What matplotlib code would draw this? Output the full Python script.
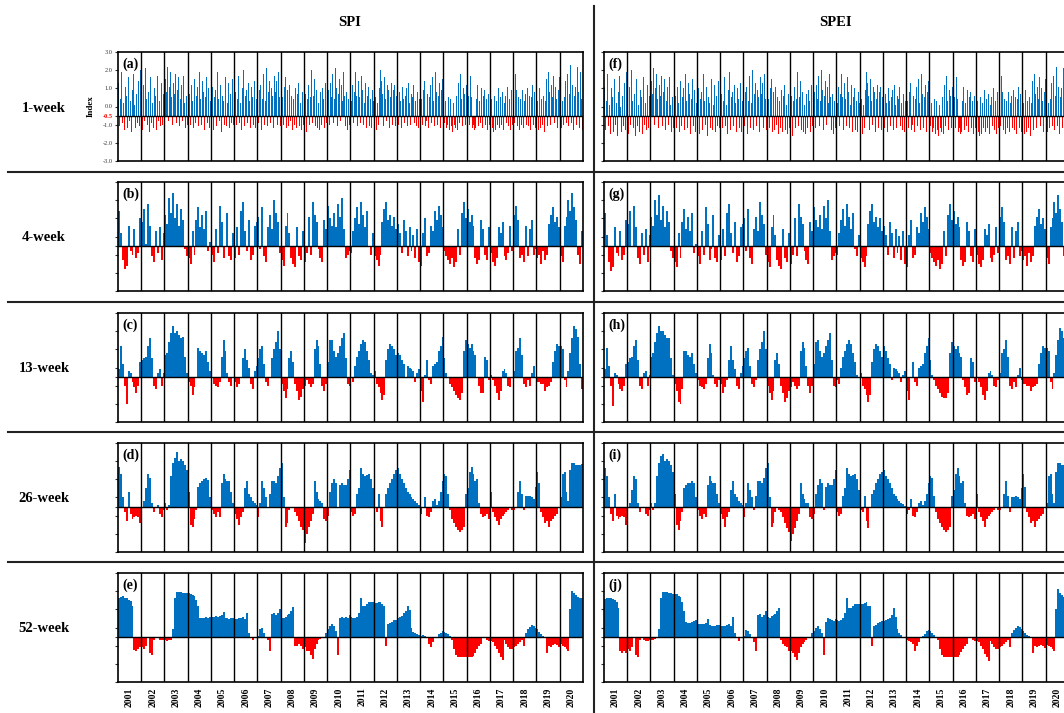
import numpy as np
import matplotlib.pyplot as plt
from matplotlib.lines import Line2D

plt.rcParams['font.family'] = ['Liberation Serif', 'DejaVu Serif']

years = list(range(2001, 2021))
scales = ['1-week', '4-week', '13-week', '26-week', '52-week']
index_names = ['SPI', 'SPEI']
panel_tags = [['(a)', '(b)', '(c)', '(d)', '(e)'], ['(f)', '(g)', '(h)', '(i)', '(j)']]
threshold = -0.5

# 1-week: two values per month, one line per year (2001 ... 2020)
spi_1w = [
    1.3, -1.1, 0.4, 1.9, -0.9, 0.2, -1.3, 1.1, 0.6, -1.2, 1.6, -0.8, 0.3, -1.4, 0.9, -1.0, 1.8, 0.1, -1.2, 0.7, -0.9, 1.4, -1.1, 2.0,
    0.5, -1.3, 1.2, -0.8, 2.1, 0.4, -1.0, 0.8, -1.4, 1.6, -0.9, 0.2, -1.2, 1.0, 0.6, -1.3, 1.7, -0.8, 0.3, -1.1, 1.3, -1.0, 0.7, -1.2,
    -0.9, 1.5, 0.8, 2.2, -0.8, 1.1, 1.9, 0.5, -1.0, 1.3, 0.7, 1.8, -0.9, 0.9, 1.6, -1.1, 0.4, 1.2, -0.8, 1.7, 0.2, -1.2, 0.6, -1.0,
    -1.3, 0.7, -1.0, 1.2, 0.3, -1.2, 1.5, 2.3, -0.9, 0.6, 1.1, -1.1, 1.9, 0.4, -1.0, 1.4, 0.8, -1.3, 0.5, 1.6, -0.9, 1.0, -1.2, 0.3,
    -1.0, 1.1, -1.3, 0.5, 0.9, -1.1, 1.9, 0.4, -0.8, 1.2, -1.4, 0.6, 0.3, -1.0, 1.6, 0.8, -1.1, 0.2, 1.3, -1.2, 0.7, -0.9, 1.5, -1.0,
    -1.2, 0.8, -1.0, 0.4, 1.7, -0.9, 0.2, -1.3, 1.0, 2.0, -1.1, 0.6, 0.9, -0.9, 1.3, 0.3, -1.2, 1.1, 0.5, -1.0, 1.4, -1.2, 0.4, 0.9,
    1.5, -0.9, 0.9, 1.2, -1.3, 0.4, 1.8, -1.0, 0.3, 2.1, -1.1, 0.8, 1.4, -0.9, 1.0, 0.6, -1.2, 1.7, 0.8, 1.4, -1.0, 1.9, 0.5, -1.1,
    -1.4, 0.5, -1.0, 1.1, 1.6, -1.2, 0.9, 0.3, -1.1, 1.2, -0.8, 0.6, -1.3, 0.4, -1.0, 1.0, -1.2, 0.7, 1.3, -1.1, 0.2, -1.3, 0.8, -1.0,
    -1.2, 0.7, -1.4, 0.4, 1.2, -1.0, 0.5, 2.0, -0.9, 0.6, 1.5, -1.1, 0.9, -1.2, 0.2, 1.1, -1.3, 0.8, -1.0, 1.0, 0.4, -1.2, 1.3, -0.9,
    1.6, 0.9, -1.0, 1.3, 0.5, 1.8, -0.9, 0.4, 2.1, 1.0, -1.1, 0.7, 1.5, -0.8, 1.2, 0.3, 1.9, 0.6, -1.1, 0.8, -1.3, 0.4, -1.0, 0.6,
    -1.0, 0.3, 1.2, -0.9, 0.8, 1.9, 0.6, -1.1, 1.4, 0.5, -0.9, 1.7, 0.9, -1.0, 0.2, 1.3, -1.2, 0.6, 1.1, -1.1, 0.4, -1.2, 0.9, 0.3,
    -1.1, 0.5, -1.3, 0.2, -1.0, 1.0, 2.0, -0.9, 1.4, 0.7, -1.1, 1.6, 0.4, -0.8, 1.2, 0.9, -1.2, 0.5, 1.3, -1.0, 0.9, 1.2, -1.1, 0.6,
    1.5, -1.0, 0.8, 0.3, -1.2, 1.1, 0.4, -0.9, 0.6, 1.0, -1.1, 1.3, 0.2, -1.0, 0.7, -1.3, 0.5, 1.2, -0.9, 0.3, -1.1, 0.8, -1.2, 0.4,
    -1.3, 0.4, -1.0, 0.9, 1.4, -1.1, -0.8, 0.7, -1.2, 0.5, 1.2, -0.9, 1.6, 0.3, -1.1, 1.9, 0.8, -1.0, 0.6, 1.3, -1.2, 0.9, 1.5, -0.8,
    1.1, -0.9, 0.3, -1.2, -1.0, 0.5, -1.3, 0.4, -1.1, -1.4, 0.2, -1.0, -1.2, 0.6, -1.3, 1.3, -0.9, 1.8, 0.4, -1.1, 1.0, 0.7, -1.0, 1.2,
    1.4, 0.6, -1.0, 1.7, 0.5, -1.2, -1.0, 0.3, -1.3, -1.2, 0.4, 1.2, -1.1, 0.3, -0.9, 1.0, -1.2, 0.6, 0.9, -1.0, 0.4, -1.3, 0.7, -1.0,
    -0.8, 0.4, -1.2, -1.4, 0.6, -1.3, 0.3, -1.0, 1.0, -1.2, 0.5, -1.0, 0.8, -1.3, 0.2, -1.2, 0.6, -0.9, 1.1, -1.1, 0.4, -1.3, 0.9, -1.0,
    1.3, -0.9, 1.8, 0.9, -1.1, 0.5, -1.3, 0.4, -1.0, 0.9, -1.2, 0.3, 0.7, -1.0, 1.0, -1.1, 0.6, -1.3, 0.5, 1.2, -1.0, 0.8, -1.2, 0.5,
    -1.1, 0.3, -1.3, 1.0, -1.2, 0.4, -1.0, 0.6, -1.4, 0.3, 1.5, -1.1, 1.9, 0.8, -1.0, 1.2, 0.5, 1.7, -0.9, 1.1, 0.4, -1.2, 0.9, 1.6,
    0.9, -1.2, 0.3, -1.0, 0.5, 1.4, -0.9, 2.2, 1.8, -1.1, 0.7, 2.3, -0.9, 1.2, -1.3, 0.6, 1.1, -1.0, 2.2, 0.8, -1.2, 1.9, 0.4, -1.3,
]
spei_1w = [
    1.1, -1.3, 0.3, 1.8, -1.1, 0.1, -1.5, 1.0, 0.5, -1.4, 1.5, -1.0, 0.2, -1.6, 0.8, -1.2, 1.7, 0.0, -1.4, 0.6, -1.1, 1.3, -1.3, 1.9,
    0.4, -1.5, 1.1, -1.0, 2.0, 0.3, -1.2, 0.7, -1.6, 1.5, -1.1, 0.1, -1.4, 0.9, 0.5, -1.5, 1.6, -1.0, 0.2, -1.3, 1.2, -1.2, 0.6, -1.4,
    -1.1, 1.4, 0.7, 2.1, -1.0, 1.0, 1.8, 0.4, -1.2, 1.2, 0.6, 1.7, -1.1, 0.8, 1.5, -1.3, 0.3, 1.1, -1.0, 1.6, 0.1, -1.4, 0.5, -1.2,
    -1.5, 0.6, -1.2, 1.1, 0.2, -1.4, 1.4, 2.2, -1.1, 0.5, 1.0, -1.3, 1.8, 0.3, -1.2, 1.3, 0.7, -1.5, 0.4, 1.5, -1.1, 0.9, -1.4, 0.2,
    -1.2, 1.0, -1.5, 0.4, 0.8, -1.3, 1.8, 0.3, -1.0, 1.1, -1.6, 0.5, 0.2, -1.2, 1.5, 0.7, -1.3, 0.1, 1.2, -1.4, 0.6, -1.1, 1.4, -1.2,
    -1.4, 0.7, -1.2, 0.3, 1.6, -1.1, 0.1, -1.5, 0.9, 1.9, -1.3, 0.5, 0.8, -1.1, 1.2, 0.2, -1.4, 1.0, 0.4, -1.2, 1.3, -1.4, 0.3, 0.8,
    1.4, -1.1, 0.8, 1.1, -1.5, 0.3, 1.7, -1.2, 0.2, 2.0, -1.3, 0.7, 1.3, -1.1, 0.9, 0.5, -1.4, 1.6, 0.7, 1.3, -1.2, 1.8, 0.4, -1.3,
    -1.6, 0.4, -1.2, 1.0, 1.5, -1.4, 0.8, 0.2, -1.3, 1.1, -1.0, 0.5, -1.5, 0.3, -1.2, 0.9, -1.4, 0.6, 1.2, -1.3, 0.1, -1.5, 0.7, -1.2,
    -1.4, 0.6, -1.6, 0.3, 1.1, -1.2, 0.4, 1.9, -1.1, 0.5, 1.4, -1.3, 0.8, -1.4, 0.1, 1.0, -1.5, 0.7, -1.2, 0.9, 0.3, -1.4, 1.2, -1.1,
    1.5, 0.8, -1.2, 1.2, 0.4, 1.7, -1.1, 0.3, 2.0, 0.9, -1.3, 0.6, 1.4, -1.0, 1.1, 0.2, 1.8, 0.5, -1.3, 0.7, -1.5, 0.3, -1.2, 0.5,
    -1.2, 0.2, 1.1, -1.1, 0.7, 1.8, 0.5, -1.3, 1.3, 0.4, -1.1, 1.6, 0.8, -1.2, 0.1, 1.2, -1.4, 0.5, 1.0, -1.3, 0.3, -1.4, 0.8, 0.2,
    -1.3, 0.4, -1.5, 0.1, -1.2, 0.9, 1.9, -1.1, 1.3, 0.6, -1.3, 1.5, 0.3, -1.0, 1.1, 0.8, -1.4, 0.4, 1.2, -1.2, 0.8, 1.1, -1.3, 0.5,
    1.4, -1.2, 0.7, 0.2, -1.4, 1.0, 0.3, -1.1, 0.5, 0.9, -1.3, 1.2, 0.1, -1.2, 0.6, -1.5, 0.4, 1.1, -1.1, 0.2, -1.3, 0.7, -1.4, 0.3,
    -1.5, 0.3, -1.2, 0.8, 1.3, -1.3, -1.0, 0.6, -1.4, 0.4, 1.1, -1.1, 1.5, 0.2, -1.3, 1.8, 0.7, -1.2, 0.5, 1.2, -1.4, 0.8, 1.4, -1.0,
    1.0, -1.1, 0.2, -1.4, -1.2, 0.4, -1.5, 0.3, -1.3, -1.6, 0.1, -1.2, -1.4, 0.5, -1.5, 1.2, -1.1, 1.7, 0.3, -1.3, 0.9, 0.6, -1.2, 1.1,
    1.3, 0.5, -1.2, 1.6, 0.4, -1.4, -1.2, 0.2, -1.5, -1.4, 0.3, 1.1, -1.3, 0.2, -1.1, 0.9, -1.4, 0.5, 0.8, -1.2, 0.3, -1.5, 0.6, -1.2,
    -1.0, 0.3, -1.4, -1.6, 0.5, -1.5, 0.2, -1.2, 0.9, -1.4, 0.4, -1.2, 0.7, -1.5, 0.1, -1.4, 0.5, -1.1, 1.0, -1.3, 0.3, -1.5, 0.8, -1.2,
    1.2, -1.1, 1.7, 0.8, -1.3, 0.4, -1.5, 0.3, -1.2, 0.8, -1.4, 0.2, 0.6, -1.2, 0.9, -1.3, 0.5, -1.5, 0.4, 1.1, -1.2, 0.7, -1.4, 0.4,
    -1.3, 0.2, -1.5, 0.9, -1.4, 0.3, -1.2, 0.5, -1.6, 0.2, 1.4, -1.3, 1.8, 0.7, -1.2, 1.1, 0.4, 1.6, -1.1, 1.0, 0.3, -1.4, 0.8, 1.5,
    0.8, -1.4, 0.2, -1.2, 0.4, 1.3, -1.1, 2.1, 1.7, -1.3, 0.6, 2.2, -1.1, 1.1, -1.5, 0.5, 1.0, -1.2, 2.1, 0.7, -1.4, 1.8, 0.3, -1.5,
]
# 4, 13, 26 and 52-week: monthly values, one line per year
spi_4w = [
    1.4, 0.2, -1.3, -1.8, -1.6, 0.6, -0.8, -1.0, 0.4, -1.2, -0.9, 1.0,
    0.8, 1.5, -0.4, 1.8, 0.6, -1.1, -1.4, 0.3, -0.9, 0.5, -1.3, 0.2,
    1.2, 0.7, 2.1, 1.3, 2.4, 1.0, 1.8, 0.6, 1.5, 0.9, -0.7, -1.1,
    -1.2, -1.5, 0.3, -1.0, 0.9, 1.6, 0.5, 1.2, 0.4, 1.4, -0.8, -0.3,
    -1.0, -1.4, 0.4, -0.9, 1.7, 0.8, -1.2, -0.6, 1.3, -1.1, -1.3, 0.2,
    -1.2, 0.5, -1.0, 1.4, 1.9, 0.3, -0.8, 0.9, -1.3, -1.0, 0.6, 0.8,
    1.1, -0.7, 1.6, -1.1, -1.4, 0.5, 1.2, 0.4, 2.0, 1.3, 0.8, -0.9,
    -1.3, -1.6, 0.6, 1.3, 0.2, -1.2, -1.5, -1.7, 0.5, -1.1, -1.3, 0.3,
    -1.4, -0.9, 1.1, -1.0, 1.9, 1.2, 0.8, -0.7, -1.2, -1.4, 0.9, 0.4,
    1.7, 1.0, 0.6, 1.3, 0.5, 1.8, 1.1, 2.1, 0.4, -1.2, -1.0, -0.8,
    -0.9, 0.3, 1.0, 1.6, 0.7, 1.9, 1.2, 0.5, 1.4, -0.6, -1.0, 0.2,
    -1.1, -1.3, -1.6, -1.0, 0.8, 1.5, 1.9, 0.9, 1.2, 0.6, 1.1, 0.4,
    0.7, 0.2, -0.9, 0.9, 0.3, -1.1, 0.5, -0.8, 0.1, -1.2, 0.4, -1.4,
    -1.6, 0.2, 1.0, -1.1, -0.9, 0.6, 0.3, 1.4, 0.9, 1.7, 1.2, 0.5,
    -0.8, -1.1, -1.3, -1.5, -1.2, -1.7, -1.4, 0.4, -1.0, 1.3, 1.9, 1.0,
    1.5, 0.8, 1.2, 0.6, -1.2, -1.5, -1.3, 0.9, 0.4, -1.0, -1.3, 0.5,
    -0.9, -1.4, -1.6, -1.2, 0.5, 0.2, 0.8, -1.1, -1.3, -0.9, 0.6, -0.8,
    1.2, 1.7, 0.9, -1.2, -1.0, -1.4, 0.6, -1.1, 0.4, 0.9, -1.0, -0.7,
    -1.2, -1.0, -1.5, -0.8, -1.3, -1.0, 0.7, 1.2, 1.6, 0.8, 1.1, 0.5,
    -1.1, -1.4, 0.6, 1.1, 2.0, 1.4, 2.4, 1.6, 0.9, -1.0, -1.5, 0.3,
]
spei_4w = [
    1.3, 0.1, -1.4, -1.9, -1.7, 0.5, -0.9, -1.1, 0.3, -1.3, -1.0, 0.9,
    0.7, 1.4, -0.5, 1.7, 0.5, -1.2, -1.5, 0.2, -1.0, 0.4, -1.4, 0.1,
    1.1, 0.6, 2.0, 1.2, 2.3, 0.9, 1.7, 0.5, 1.4, 0.8, -0.8, -1.2,
    -1.4, -1.7, 0.2, -1.2, 0.8, 1.5, 0.4, 1.1, 0.3, 1.3, -0.9, -0.4,
    -1.1, -1.5, 0.3, -1.0, 1.6, 0.7, -1.3, -0.7, 1.2, -1.2, -1.4, 0.1,
    -1.3, 0.4, -1.1, 1.3, 1.8, 0.2, -0.9, 0.8, -1.4, -1.1, 0.5, 0.7,
    1.0, -0.8, 1.5, -1.2, -1.5, 0.4, 1.1, 0.3, 1.9, 1.2, 0.7, -1.0,
    -1.4, -1.7, 0.5, 1.2, 0.1, -1.3, -1.6, -1.8, 0.4, -1.2, -1.4, 0.2,
    -1.5, -1.0, 1.0, -1.1, 1.8, 1.1, 0.7, -0.8, -1.3, -1.5, 0.8, 0.3,
    1.6, 0.9, 0.5, 1.2, 0.4, 1.7, 1.0, 2.0, 0.3, -1.3, -1.1, -0.9,
    -1.0, 0.2, 0.9, 1.5, 0.6, 1.8, 1.1, 0.4, 1.3, -0.7, -1.1, 0.1,
    -1.2, -1.4, -1.7, -1.1, 0.7, 1.4, 1.8, 0.8, 1.1, 0.5, 1.0, 0.3,
    0.6, 0.1, -1.0, 0.8, 0.2, -1.2, 0.4, -0.9, 0.0, -1.3, 0.3, -1.5,
    -1.7, 0.1, 0.9, -1.2, -1.0, 0.5, 0.2, 1.3, 0.8, 1.6, 1.1, 0.4,
    -0.9, -1.2, -1.4, -1.6, -1.3, -1.8, -1.5, 0.3, -1.1, 1.2, 1.8, 0.9,
    1.4, 0.7, 1.1, 0.5, -1.3, -1.6, -1.4, 0.8, 0.3, -1.1, -1.4, 0.4,
    -1.0, -1.5, -1.7, -1.3, 0.4, 0.1, 0.7, -1.2, -1.4, -1.0, 0.5, -0.9,
    1.1, 1.6, 0.8, -1.3, -1.1, -1.5, 0.5, -1.2, 0.3, 0.8, -1.1, -0.8,
    -1.3, -1.1, -1.6, -0.9, -1.4, -1.1, 0.6, 1.1, 1.5, 0.7, 1.0, 0.4,
    -1.2, -1.5, 0.5, 1.0, 1.9, 1.3, 2.3, 1.5, 0.8, -1.1, -1.6, 0.2,
]
spi_13w = [
    -0.1, 1.2, 0.2, -1.0, -2.0, -0.2, -0.3, -0.8, -1.1, -1.4, -1.0, 0.3,
    0.4, 0.5, 0.6, 1.2, 1.6, 0.5, -1.0, -1.2, -0.3, -0.1, -1.0, -0.3,
    0.7, 0.8, 1.4, 1.9, 2.3, 1.9, 2.0, 1.8, 1.6, 1.7, 0.6, -0.3,
    -0.8, -1.0, -1.5, -1.1, -0.6, 1.1, 0.9, 0.8, 0.7, 0.9, 0.3, -0.2,
    -0.6, -0.9, -1.0, -1.1, -0.8, 0.6, 1.5, 0.9, -0.3, -0.8, -1.0, -0.6,
    -0.8, -1.1, -0.9, -0.6, 0.5, 1.0, 0.4, 0.0, -0.9, -1.2, -0.2, 0.1,
    0.5, 1.0, 1.2, 0.2, -0.8, -1.0, -0.6, 0.5, 1.0, 1.4, 2.0, 1.0,
    -0.9, -1.3, -1.7, -1.2, 0.5, 0.9, 0.3, -0.9, -1.3, -1.8, -1.6, -1.2,
    -1.0, -0.7, -0.9, -1.1, -0.9, 1.0, 1.5, 1.2, 0.2, -1.0, -1.3, -0.9,
    0.3, 1.5, 1.5, 0.9, 0.6, 0.8, 1.2, 1.6, 1.9, 0.5, -0.9, -1.0,
    -0.6, -0.8, 0.1, 0.6, 0.9, 1.3, 1.5, 1.4, 0.9, 0.4, -0.3, -0.4,
    -0.2, -0.9, -1.1, -1.4, -1.8, -1.5, 0.4, 1.0, 1.3, 1.2, 1.0, 0.7,
    0.8, 0.7, 0.4, 0.2, -0.6, 0.1, 0.0, -0.1, -0.2, -0.8, -0.3, -0.1,
    -1.3, -1.9, -0.4, 0.4, -0.7, -0.9, 0.1, 0.2, 0.3, 0.9, 1.2, 1.7,
    0.5, -0.3, -0.6, -0.9, -1.1, -1.3, -1.5, -1.7, -1.8, -1.4, 0.9, 1.5,
    1.3, 1.1, 1.3, 0.9, 0.7, -0.6, -1.0, -1.4, -1.4, 0.6, 0.4, -0.7,
    -0.4, -0.7, -1.0, -1.4, -1.8, -1.3, -0.2, -0.1, -0.3, -1.0, -1.1, -0.6,
    -0.2, 0.9, 1.1, 1.6, 0.7, -0.9, -1.1, -0.7, -1.0, -0.3, 0.1, -0.6,
    -0.8, -0.8, -0.9, -0.9, -1.3, -1.1, -1.0, -0.8, 0.3, 0.9, 1.3, 1.2,
    1.2, 1.0, -0.7, -1.1, -0.2, 0.8, 1.6, 2.3, 2.1, 1.7, 0.2, -1.2,
]
spei_13w = [
    -0.1, 1.1, 0.1, -1.0, -2.1, -0.3, -0.4, -0.9, -1.2, -1.3, -1.0, 0.2,
    0.3, 0.5, 0.6, 1.2, 1.5, 0.4, -1.0, -1.2, -0.3, -0.2, -1.0, -0.4,
    0.6, 0.8, 1.4, 1.9, 2.3, 2.0, 2.0, 1.8, 1.6, 1.6, 0.5, -0.4,
    -0.9, -1.3, -1.9, -2.0, -1.2, 0.9, 0.9, 0.7, 0.6, 0.8, 0.2, -0.3,
    -0.7, -1.0, -1.1, -1.2, -0.9, 0.5, 1.3, 0.8, -0.4, -0.9, -1.1, -0.7,
    -0.9, -1.4, -1.1, -0.7, 0.4, 1.2, 0.4, -0.1, -1.0, -1.2, -0.3, 0.1,
    0.5, 0.9, 1.1, 0.1, -0.9, -1.1, -0.7, 0.4, 1.0, 1.4, 2.0, 1.0,
    -1.0, -1.4, -1.8, -1.3, 0.4, 0.8, 0.2, -1.0, -1.4, -1.9, -1.7, -1.3,
    -1.1, -0.8, -1.0, -1.2, -1.0, 0.9, 1.4, 1.1, 0.1, -1.0, -1.4, -1.0,
    0.2, 1.4, 1.5, 0.9, 0.6, 0.8, 1.2, 1.5, 1.9, 0.4, -1.0, -1.1,
    -0.7, -0.9, 0.0, 0.6, 0.9, 1.3, 1.5, 1.3, 0.8, 0.3, -0.4, -0.5,
    -0.3, -1.0, -1.2, -1.5, -1.9, -1.5, 0.3, 1.0, 1.3, 1.2, 0.9, 0.6,
    1.2, 0.9, 0.5, 0.2, -0.7, 0.0, -0.1, -0.2, -0.3, -0.8, -0.4, -0.2,
    -1.3, -1.8, -0.5, 0.3, -0.8, -1.0, 0.0, 0.1, 0.2, 0.8, 1.2, 1.6,
    0.4, -0.4, -0.7, -1.0, -1.2, -1.4, -1.6, -1.7, -1.7, -1.4, 0.8, 1.4,
    1.2, 1.0, 1.2, 0.8, 0.6, -0.7, -1.1, -1.5, -1.4, 0.5, 0.3, -0.8,
    -0.5, -0.8, -1.1, -1.5, -1.8, -1.3, -0.3, -0.2, -0.4, -1.0, -1.1, -0.7,
    -0.3, 0.8, 1.0, 1.5, 0.6, -1.0, -1.2, -0.8, -1.1, -0.4, 0.0, -0.7,
    -0.9, -0.9, -1.0, -1.0, -1.3, -1.1, -1.0, -0.9, 0.2, 0.8, 1.2, 1.1,
    1.1, 0.9, -0.8, -1.2, -0.3, 0.7, 1.5, 2.2, 2.0, 1.6, 0.1, -1.3,
]
spi_26w = [
    1.7, 1.3, 0.0, -0.8, -1.3, 0.3, -0.9, -1.2, -1.1, -1.0, -1.1, -1.4,
    -0.5, -0.2, 0.5, 1.3, 1.1, -0.3, -0.8, -0.5, -0.4, -0.9, -1.1, -0.7,
    -0.3, -0.7, -0.4, 1.2, 1.9, 2.2, 2.5, 2.0, 2.1, 2.0, 1.8, 1.5,
    0.3, -1.5, -1.6, -1.2, -0.7, 0.6, 0.8, 0.9, 1.0, 1.1, 0.95, 0.0,
    -0.7, -0.9, -1.1, -0.8, -1.1, 0.8, 1.3, 1.0, 0.9, 0.9, 0.3, -0.3,
    -0.9, -1.2, -1.5, -1.1, -0.8, 0.5, 0.9, 0.2, 0.0, -0.2, -0.3, -0.4,
    -1.1, -0.3, 0.9, 0.5, 0.0, -0.6, 0.2, 0.9, 0.9, 0.8, 1.2, 1.6,
    1.9, 0.0, -1.6, -1.4, -0.7, -0.6, -0.6, -0.8, -1.0, -1.3, -1.6, -1.8,
    -2.5, -2.0, -1.6, -1.3, -0.9, 0.9, 0.3, -0.1, -0.2, -0.3, -1.2, -1.3,
    -1.0, 0.3, 0.8, 1.0, 0.8, -0.6, 0.7, 0.8, 0.7, 0.7, 1.0, 1.5,
    -0.8, -1.0, -0.9, 0.2, 0.5, 1.6, 1.3, 1.2, 1.25, 1.3, 1.0, 0.5,
    -0.6, -0.8, 0.2, -1.3, -1.6, -0.6, 0.2, 0.5, 0.8, 1.0, 1.3, 1.5,
    1.6, 1.3, 1.0, 0.8, 0.5, 0.3, 0.2, 0.0, -0.1, -0.2, -0.3, -0.4,
    -0.9, -0.6, 0.0, -1.0, -1.1, -0.8, -0.2, -0.1, -0.4, -0.2, 0.3, 0.9,
    1.3, 1.2, 0.2, -0.7, -1.2, -1.4, -1.6, -1.8, -1.9, -1.8, -1.6, 0.2,
    0.5, 1.4, 1.7, 1.3, 0.9, 1.0, -0.3, -0.9, -1.1, -1.0, -0.9, -1.2,
    0.3, -0.8, -1.1, -1.3, -1.5, -1.2, -1.0, -0.9, -0.8, -0.7, -0.6, -0.7,
    -0.7, -0.6, 0.3, 0.9, 0.2, -0.7, 0.1, 0.1, 0.1, 0.0, -0.1, 0.6,
    1.4, 0.8, -0.8, -1.1, -1.4, -1.3, -1.6, -1.3, -1.2, -1.0, -0.9, -0.5,
    0.0, 1.3, 1.4, 0.3, -0.2, 1.5, 1.9, 1.9, 1.8, 1.8, 1.8, 1.85,
]
spei_26w = [
    1.6, 1.2, 0.0, -0.9, -1.3, 0.2, -1.0, -1.2, -1.1, -1.0, -1.1, -1.5,
    -0.6, -0.3, 0.4, 1.2, 1.0, -0.3, -0.8, -0.6, -0.5, -0.9, -1.0, -0.7,
    -0.3, -0.7, -0.3, 1.2, 1.9, 2.3, 2.4, 2.0, 2.1, 2.0, 1.8, 1.4,
    0.2, -1.5, -1.8, -1.3, -0.8, 0.5, 0.7, 0.8, 0.8, 0.9, 0.8, 0.0,
    -0.7, -1.0, -1.2, -0.9, -1.1, 0.7, 1.2, 0.9, 0.8, 0.8, 0.2, -0.3,
    -0.9, -1.2, -1.6, -1.1, -0.8, 0.4, 0.9, 0.2, 0.0, -0.2, -0.3, -0.4,
    -1.1, -0.3, 0.8, 0.4, 0.0, -0.7, 0.1, 0.9, 0.9, 0.8, 1.1, 1.6,
    1.9, 0.0, -1.6, -1.4, -0.8, -0.6, -0.7, -0.8, -1.1, -1.4, -1.7, -1.9,
    -2.4, -2.0, -1.7, -1.3, -0.9, 0.8, 0.2, -0.1, -0.3, -0.3, -1.1, -1.2,
    -0.9, 0.2, 0.7, 1.0, 0.8, -0.7, 0.6, 0.8, 0.7, 0.7, 1.0, 1.5,
    -0.8, -1.0, -0.9, 0.1, 0.5, 1.6, 1.3, 1.2, 1.25, 1.3, 1.0, 0.4,
    -0.7, -0.8, 0.1, -1.3, -1.7, -0.6, 0.2, 0.4, 0.8, 1.0, 1.3, 1.4,
    1.5, 1.2, 1.0, 0.8, 0.5, 0.2, 0.1, -0.1, -0.2, -0.3, -0.35, -0.45,
    -0.9, -0.7, -0.1, -1.0, -1.1, -0.8, -0.3, -0.2, -0.4, -0.2, 0.2, 0.8,
    1.2, 1.1, 0.1, -0.8, -1.2, -1.4, -1.6, -1.8, -1.9, -1.8, -1.6, 0.1,
    0.4, 1.3, 1.6, 1.2, 0.8, 0.9, -0.3, -1.0, -1.1, -1.0, -0.9, -1.2,
    0.2, -0.8, -1.1, -1.3, -1.6, -1.2, -1.0, -0.9, -0.8, -0.7, -0.6, -0.7,
    -0.7, -0.6, 0.2, 0.9, 0.1, -0.8, 0.0, 0.0, 0.1, 0.0, -0.1, 0.5,
    1.3, 0.6, -0.8, -1.1, -1.4, -1.3, -1.6, -1.3, -1.2, -1.0, -0.9, -0.6,
    -0.3, 1.2, 1.3, 0.2, -0.3, 1.4, 1.9, 1.9, 1.8, 1.8, 1.8, 1.85,
]
spi_52w = [
    1.63, 1.67, 1.72, 1.65, 1.63, 1.54, 1.45, 1.2, -1.25, -1.3, -1.2, -1.1,
    -1.1, -1.2, -1.0, -0.55, -1.4, -1.5, -0.7, -0.5, -0.55, -0.7, -0.7, -0.7,
    -0.7, -0.75, -0.7, -0.7, -0.1, 1.6, 1.95, 1.95, 1.95, 1.9, 1.9, 1.9,
    1.9, 1.85, 1.8, 1.75, 1.5, 1.2, 0.55, 0.5, 0.55, 0.6, 0.55, 0.6,
    0.6, 0.6, 0.65, 0.6, 0.65, 0.7, 0.85, 0.55, 0.5, 0.45, 0.5, 0.5,
    0.45, 0.45, 0.5, 0.55, 0.6, 0.45, 0.8, -0.3, -0.5, -0.7, -0.55, -0.5,
    -0.45, -0.1, -0.05, -0.3, -0.55, -0.7, -1.3, 0.75, 0.8, 0.7, 0.8, 1.0,
    0.55, 0.55, 0.6, 0.7, 0.75, 0.9, 1.15, -1.0, -1.0, -0.9, -1.0, -1.2,
    -1.1, -1.3, -1.3, -1.5, -1.75, -1.2, -0.9, -0.7, -0.65, -0.6, -0.6, -0.3,
    -0.1, 0.1, 0.2, 0.1, -0.2, -1.5, 0.5, 0.6, 0.55, 0.6, 0.55, 0.7,
    0.6, 0.5, 0.55, 0.6, 0.8, 1.6, 1.2, 1.2, 1.3, 1.4, 1.4, 1.4,
    1.35, 1.35, 1.4, 1.4, 1.3, 1.2, -1.0, 0.2, 0.25, 0.3, 0.4, 0.4,
    0.5, 0.6, 0.65, 0.8, 0.9, 1.2, 0.95, 0.0, -0.25, -0.3, -0.35, -0.4,
    -0.45, -0.4, -0.45, -0.5, -0.9, -1.1, -0.8, -0.6, -0.5, -0.35, -0.3, -0.2,
    -0.25, -0.3, -0.35, -0.45, -0.7, -1.2, -1.5, -1.6, -1.65, -1.65, -1.6, -1.65,
    -1.6, -1.65, -1.6, -1.55, -1.4, -1.2, -1.0, -0.9, -0.55, -0.6, -0.7, -0.75,
    -0.75, -0.8, -1.0, -1.2, -1.4, -1.6, -1.8, -0.7, -0.9, -1.1, -1.2, -1.2,
    -1.1, -1.0, -0.9, -0.8, -0.7, -1.0, -0.3, -0.1, 0.05, 0.15, 0.1, -0.05,
    -0.1, -0.25, -0.35, -0.45, -0.6, -1.4, -1.0, -1.05, -0.95, -0.9, -0.95, -1.1,
    -0.9, -1.0, -1.1, -1.2, -1.3, 1.0, 2.0, 1.9, 1.8, 1.7, 1.65, 1.6,
]
spei_52w = [
    1.55, 1.6, 1.65, 1.6, 1.55, 1.5, 1.4, 1.1, -1.3, -1.4, -1.3, -1.4,
    -1.2, -1.3, -1.1, -0.6, -1.5, -1.6, -0.7, -0.55, -0.7, -0.75, -0.75, -0.7,
    -0.7, -0.7, -0.65, -0.6, -0.1, 1.6, 1.95, 1.95, 1.95, 1.9, 1.9, 1.85,
    1.85, 1.85, 1.75, 1.7, 1.4, 0.9, 0.3, 0.25, 0.25, 0.3, 0.35, 0.4,
    0.2, 0.2, 0.2, 0.2, 0.25, 0.45, 0.15, 0.1, 0.1, 0.1, 0.15, 0.15,
    0.1, 0.1, 0.1, 0.15, 0.2, 0.1, 0.6, -0.3, -0.5, -0.75, -0.6, -0.5,
    -0.45, -0.15, -0.2, -0.35, -0.55, -0.8, -1.3, 0.7, 0.75, 0.6, 0.7, 0.9,
    0.6, 0.55, 0.65, 0.7, 0.75, 0.9, 1.1, -0.7, -0.9, -1.0, -1.1, -1.3,
    -1.3, -1.4, -1.6, -1.8, -1.4, -1.1, -0.9, -0.8, -0.7, -0.6, -0.5, -0.3,
    -0.2, 0.0, 0.1, -0.1, -0.3, -1.5, 0.3, 0.5, 0.45, 0.4, 0.35, 0.45,
    0.4, 0.35, 0.4, 0.5, 0.8, 1.6, 1.1, 1.1, 1.2, 1.3, 1.3, 1.3,
    1.3, 1.3, 1.35, 1.4, 1.2, 1.2, -1.0, 0.1, 0.15, 0.25, 0.3, 0.35,
    0.35, 0.4, 0.45, 0.5, 0.7, 1.1, 0.6, -0.1, -0.3, -0.4, -0.5, -0.55,
    -0.7, -0.75, -0.8, -0.9, -1.3, -1.0, -0.8, -0.6, -0.45, -0.35, -0.2, -0.15,
    -0.2, -0.3, -0.4, -0.5, -0.7, -1.2, -1.5, -1.6, -1.65, -1.65, -1.6, -1.65,
    -1.6, -1.6, -1.6, -1.5, -1.35, -1.2, -1.0, -0.9, -0.55, -0.6, -0.7, -0.75,
    -0.75, -0.8, -1.0, -1.2, -1.45, -1.65, -1.85, -0.75, -0.9, -1.1, -1.2, -1.2,
    -1.1, -1.0, -0.9, -0.8, -0.7, -1.1, -0.3, -0.15, 0.0, 0.1, 0.05, -0.1,
    -0.2, -0.3, -0.4, -0.45, -0.6, -1.4, -1.0, -1.05, -1.0, -0.95, -1.0, -1.15,
    -0.95, -1.0, -1.1, -1.2, -1.3, 1.0, 2.1, 1.9, 1.8, 1.7, 1.65, 1.6,
]

series = [[spi_1w, spi_4w, spi_13w, spi_26w, spi_52w],
          [spei_1w, spei_4w, spei_13w, spei_26w, spei_52w]]

BLUE = '#0070C0'
RED = '#FF0000'
W, H = 1064, 713

fig = plt.figure(figsize=(W / 100, H / 100), dpi=100)

col_left = [118, 604]
row_top = [52, 182, 313, 443, 573]
pw, ph = 465, 109

for c in range(2):
    for r in range(5):
        ax = fig.add_axes([col_left[c] / W, 1 - (row_top[r] + ph) / H, pw / W, ph / H])
        v = np.array(series[c][r])
        n = len(v)
        step = len(years) / n
        x = years[0] + (np.arange(n) + 0.5) * step
        cols = np.where(v >= threshold, BLUE, RED)
        ax.bar(x, v - threshold, bottom=threshold, width=step,
               color=cols, linewidth=0)
        ax.axhline(threshold, color='black', lw=1.0, zorder=3)
        for yr in years[1:]:
            ax.axvline(yr, color='black', lw=1.0, zorder=3)
        ax.set_xlim(years[0], years[-1] + 1)
        ax.set_ylim(-3, 3)
        for s in ax.spines.values():
            s.set_linewidth(1.2)
        ax.text(0.01, 0.95, panel_tags[c][r], transform=ax.transAxes,
                fontsize=10, fontweight='bold', va='top', ha='left', zorder=5)

        yt = [3, 2, 1, 0, -0.5, -1, -2, -3]
        ax.set_yticks(yt)
        ax.tick_params(axis='y', length=2.5, width=0.8, pad=1.5, colors='#333333')
        if c == 0 and r == 0:
            ax.set_yticklabels(['%.1f' % t for t in yt], fontsize=4.5)
            ax.get_yticklabels()[4].set_color(RED)
            ax.get_yticklabels()[4].set_fontweight('bold')
        else:
            ax.set_yticklabels([])

        ax.tick_params(axis='x', length=0, pad=4)
        if r == 4:
            ax.set_xticks([yr + 0.5 for yr in years])
            ax.set_xticklabels([str(yr) for yr in years], rotation=90,
                               fontsize=7, fontweight='bold')
        else:
            ax.set_xticks([])

fig.text(91 / W, 1 - 106 / H, 'Index', rotation=90, fontsize=6.5,
         fontweight='bold', ha='center', va='center')

for c, name in enumerate(index_names):
    fig.text((col_left[c] + 232) / W, 1 - 22 / H, name, fontsize=10.5,
             fontweight='bold', ha='center', va='center')

for r, lab in enumerate(scales):
    fig.text(44 / W, 1 - (row_top[r] + 56) / H, lab, fontsize=10.5,
             fontweight='bold', ha='center', va='center')

for yy in [172, 302, 432, 562]:
    fig.add_artist(Line2D([8 / W, 1], [1 - yy / H] * 2, color='#222222', lw=1.5))
fig.add_artist(Line2D([594 / W] * 2, [0, 1 - 6 / H], color='#222222', lw=1.5))

fig.savefig('out.png', dpi=100)
